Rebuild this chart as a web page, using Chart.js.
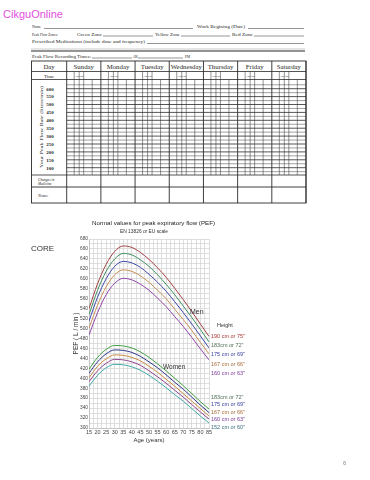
<!DOCTYPE html>
<html><head><meta charset="utf-8">
<script src="https://cdn.jsdelivr.net/npm/chart.js@4.4.1/dist/chart.umd.min.js"></script>
<style>
html,body{margin:0;padding:0;background:#fff;width:370px;height:480px;overflow:hidden;}
#form{position:absolute;left:0;top:0;}
#c{position:absolute;left:0;top:200px;}
#labels{position:absolute;left:0;top:0;}
</style></head><body>
<svg id="form" width="370" height="480" xmlns="http://www.w3.org/2000/svg"></svg>
<canvas id="c" width="370" height="260"></canvas>
<svg id="labels" width="370" height="480" xmlns="http://www.w3.org/2000/svg"></svg>
<script>
// ---------- data ----------
const ages = [15, 20, 25, 30, 35, 40, 45, 50, 55, 60, 65, 70, 75, 80, 85];
const men190 = [540, 590, 629, 655, 666, 663, 653, 639, 622, 603, 581, 558, 534, 509, 484];
const men183 = [528, 577, 615, 640, 651, 648, 638, 625, 608, 589, 568, 545, 522, 498, 473];
const men175 = [515, 563, 600, 625, 635, 632, 623, 609, 593, 575, 554, 532, 509, 485, 461];
const men167 = [501, 547, 584, 608, 618, 615, 606, 593, 577, 560, 539, 518, 496, 472, 449];
const men160 = [487, 532, 568, 591, 601, 598, 589, 577, 561, 544, 524, 504, 482, 459, 437];
const women183 = [418, 442, 458, 466, 465, 461, 453, 442, 429, 415, 400, 385, 369, 353, 338];
const women175 = [410, 433, 449, 457, 456, 452, 444, 433, 421, 407, 392, 378, 362, 346, 331];
const women167 = [401, 424, 439, 447, 446, 442, 435, 424, 412, 398, 384, 369, 354, 339, 324];
const women160 = [393, 415, 430, 438, 437, 433, 426, 415, 403, 390, 376, 362, 347, 332, 318];
const women152 = [384, 406, 421, 428, 427, 423, 416, 406, 394, 381, 367, 354, 339, 324, 310];
const menHeightLabels = ['190 cm or 75"', '183cm or 72"', '175 cm or 69"', '167 cm or 66"', '160 cm or 63"'];
const womenHeightLabels = ['183cm or 72"', '175 cm or 69"', '167 cm or 66"', '160 cm or 63"', '152 cm or 60"'];
const xTickLabels = [15, 20, 25, 30, 35, 40, 45, 50, 55, 60, 65, 70, 75, 80, 85];
const yTickLabels = [300, 320, 340, 360, 380, 400, 420, 440, 460, 480, 500, 520, 540, 560, 580, 600, 620, 640, 660, 680];
const days = ['Sunday', 'Monday', 'Tuesday', 'Wednesday', 'Thursday', 'Friday', 'Saturday'];
const flowLabels = [600, 550, 500, 450, 400, 350, 300, 250, 200, 150, 100];

// ---------- styles ----------
const menColors = ['#a04040', '#3f8f5f', '#3f48a8', '#c89058', '#8f45a8'];
const womenColors = ['#45a045', '#2e3585', '#c88a40', '#904590', '#40a8a8'];
const menTextColors = ['#b03535', '#4f6f55', '#3a40a0', '#a86a35', '#7a3a9a'];
const womenTextColors = ['#4f6f55', '#3a40a0', '#a86a35', '#7a3a9a', '#3a6f80'];

const NS = 'http://www.w3.org/2000/svg';
function el(parent, tag, attrs, text) {
  const e = document.createElementNS(NS, tag);
  for (const k in attrs) e.setAttribute(k, attrs[k]);
  if (text !== undefined) e.textContent = text;
  parent.appendChild(e);
  return e;
}
const form = document.getElementById('form');
const LC = '#2a2a2a';
function hl(x1, x2, y, w) { el(form, 'line', {x1, x2, y1: y, y2: y, stroke: LC, 'stroke-width': w || 0.6}); }
function vl(x, y1, y2, w) { el(form, 'line', {x1: x, x2: x, y1, y2, stroke: LC, 'stroke-width': w || 0.6}); }
function ft(x, y, s, size, extra) {
  const a = Object.assign({x, y, 'font-family': 'Liberation Serif', 'font-size': size, fill: '#262626'}, extra || {});
  return el(form, 'text', a, s);
}

// header
el(form, 'text', {x: 3, y: 17.5, 'font-family': 'Liberation Sans', 'font-size': 11, fill: '#e24fe0', textLength: 60, lengthAdjust: 'spacingAndGlyphs'}, 'CikguOnline');
const fs = 4.6;
ft(32, 28, 'Name', fs, {textLength: 9, lengthAdjust: 'spacingAndGlyphs'});
hl(44, 193, 28.5, 0.5);
ft(197, 28, 'Work Begining (Date)', fs, {textLength: 48, lengthAdjust: 'spacingAndGlyphs'});
hl(248, 304, 28.5, 0.5);
ft(32, 35.5, 'Peak Flow Zones:', fs, {textLength: 26, lengthAdjust: 'spacingAndGlyphs'});
ft(77, 35.5, 'Green Zone', fs, {textLength: 25, lengthAdjust: 'spacingAndGlyphs'});
hl(103, 153, 36, 0.5);
ft(155, 35.5, 'Yellow Zone', fs, {textLength: 25, lengthAdjust: 'spacingAndGlyphs'});
hl(181, 230, 36, 0.5);
ft(232, 35.5, 'Red Zone', fs, {textLength: 21, lengthAdjust: 'spacingAndGlyphs'});
hl(254, 304, 36, 0.5);
ft(32, 43, 'Prescribed Medications (include dose and frequency)', fs, {textLength: 113, lengthAdjust: 'spacingAndGlyphs'});
hl(147, 304, 43.5, 0.5);
el(form, 'line', {x1: 31, x2: 305, y1: 49, y2: 49, stroke: '#999', 'stroke-width': 0.5});
hl(31, 305, 51, 1.1);
ft(32, 57.5, 'Peak Flow Recording Times:', fs, {textLength: 59, lengthAdjust: 'spacingAndGlyphs'});
hl(92, 132, 58, 0.5);
ft(133, 57.5, 'AM', fs, {textLength: 4.5, lengthAdjust: 'spacingAndGlyphs'});
hl(138, 183, 58, 0.5);
ft(185, 57.5, 'PM', fs, {textLength: 5, lengthAdjust: 'spacingAndGlyphs'});

// table
const TL = 31.5, TR = 306, TT = 61, TB = 203, C1 = 66.7;
const DW = (TR - C1) / 7;
const yDay = 71.5, yTime = 79.5, yGB = 175, yChg = 187;
el(form, 'rect', {x: TL, y: TT, width: TR - TL, height: TB - TT, fill: 'none', stroke: LC, 'stroke-width': 0.9});
hl(TL, TR, yDay, 0.8); hl(TL, TR, yTime, 0.8); hl(TL, TR, yGB, 0.8); hl(TL, TR, yChg, 0.9);
// grid rows
for (let k = 0; k < flowLabels.length; k++) {
  const y = 88.7 + 7.9 * k;
  hl(C1, TR, y, 0.8);
  ft(50, y + 1.8, String(flowLabels[k]), 5, {'text-anchor': 'middle', 'font-weight': 'bold'});
}
for (let k = 0; k <= flowLabels.length; k++) hl(C1, TR, 84.75 + 7.9 * k, 0.45);
// columns
const subOff = [7.5, 12.5, 17, 25.5];
for (let i = 0; i <= 7; i++) vl(C1 + DW * i, TT, TB, 0.9);
for (let i = 0; i < 7; i++) {
  const x0 = C1 + DW * i;
  subOff.forEach(o => vl(x0 + o, yTime, yGB, 0.5));
  [7.5, 12.5, 17].forEach(o => vl(x0 + o, yDay, yTime, 0.5));
  ft(x0 + 10, 77, 'AM', 2.8, {'text-anchor': 'middle'});
  ft(x0 + 14.75, 77, 'PM', 2.8, {'text-anchor': 'middle'});
  ft(x0 + DW / 2, 69, days[i], 6.8, {'text-anchor': 'middle'});
}
ft((TL + C1) / 2, 69, 'Day', 6.8, {'text-anchor': 'middle'});
ft((TL + C1) / 2, 77.6, 'Time', 5, {'text-anchor': 'middle'});
ft(0, 0, 'Your Peak Flow Rate (liters/min)', 5, {transform: 'translate(42.5,127) rotate(-90)', 'text-anchor': 'middle', textLength: 82, lengthAdjust: 'spacingAndGlyphs'});
ft(38, 180.8, 'Changes in', 3.6, {'font-style': 'italic'});
ft(38, 185.2, 'Medicine', 3.6, {'font-style': 'italic'});
ft(38, 196.5, 'Notes:', 4, {'font-style': 'italic'});

// ---------- chart labels (real text) ----------
const lab = document.getElementById('labels');
function lt(x, y, s, size, color, extra) {
  return el(lab, 'text', Object.assign({x, y, 'font-family': 'Liberation Sans', 'font-size': size, fill: color}, extra || {}), s);
}
lt(31, 251, 'CORE', 8, '#333');
lt(92, 225, 'Normal values for peak expiratory flow (PEF)', 6, '#222', {textLength: 123, lengthAdjust: 'spacingAndGlyphs'});
lt(120, 233, 'EN 13826 or EU scale', 4.8, '#333', {textLength: 48, lengthAdjust: 'spacingAndGlyphs'});
lt(190, 313.5, 'Men', 7, '#333');
lt(163, 368.5, 'Women', 6.5, '#333');
lt(217, 327, 'Height', 5.5, '#333');
const menLabY = [337.7, 347, 356, 365.7, 374.7];
const womenLabY = [399, 406, 413.5, 421, 428.7];
menHeightLabels.forEach((s, i) => lt(211, menLabY[i], s, 5.5, menTextColors[i]));
womenHeightLabels.forEach((s, i) => lt(211, womenLabY[i], s, 5.5, womenTextColors[i]));
lt(343, 465, '6', 6, '#888');

// ---------- chart ----------
const xGrid = [];
for (let v = 15; v <= 85; v += 2.5) xGrid.push(v);
const yGrid = [];
for (let v = 300; v <= 680; v += 10) yGrid.push(v);

function ds(arr, color) {
  return {data: ages.map((a, i) => ({x: a, y: arr[i]})), borderColor: color, borderWidth: 1, pointRadius: 0, cubicInterpolationMode: 'monotone', fill: false};
}
const datasets = [
  ds(men190, menColors[0]), ds(men183, menColors[1]), ds(men175, menColors[2]), ds(men167, menColors[3]), ds(men160, menColors[4]),
  ds(women183, womenColors[0]), ds(women175, womenColors[1]), ds(women167, womenColors[2]), ds(women160, womenColors[3]), ds(women152, womenColors[4])
];
const tickFont = {family: 'Liberation Sans', size: 5.5};
new Chart(document.getElementById('c'), {
  type: 'line',
  data: {datasets},
  options: {
    responsive: false, animation: false, devicePixelRatio: 1,
    layout: {padding: {left: 72, right: 161, top: 39, bottom: 14}},
    plugins: {legend: {display: false}, tooltip: {enabled: false}},
    scales: {
      x: {
        type: 'linear', min: 15, max: 85,
        afterBuildTicks: s => { s.ticks = xGrid.map(v => ({value: v})); },
        afterFit: s => { s.height = 18; },
        ticks: {autoSkip: false, maxRotation: 0, minRotation: 0, padding: 1, font: tickFont, color: '#444',
          callback: v => xTickLabels.includes(v) ? String(v) : ''},
        grid: {color: '#d6d6d6', lineWidth: 0.8, drawTicks: false},
        border: {color: '#c4c4c4'},
        title: {display: true, text: 'Age (years)', font: {family: 'Liberation Sans', size: 6}, color: '#333', padding: {top: 0, bottom: 2}}
      },
      y: {
        type: 'linear', min: 300, max: 680,
        afterBuildTicks: s => { s.ticks = yGrid.map(v => ({value: v})); },
        afterFit: s => { s.width = 17; },
        ticks: {autoSkip: false, padding: 1, font: {family: 'Liberation Sans', size: 4.8}, color: '#444',
          callback: v => yTickLabels.includes(v) ? String(v) : ''},
        grid: {color: '#d6d6d6', lineWidth: 0.8, drawTicks: false},
        border: {color: '#c4c4c4'},
        title: {display: true, text: 'PEF ( L / min )', font: {family: 'Liberation Sans', size: 6.5}, color: '#333', padding: {top: 0, bottom: 0}}
      }
    }
  }
});
</script>
</body></html>
